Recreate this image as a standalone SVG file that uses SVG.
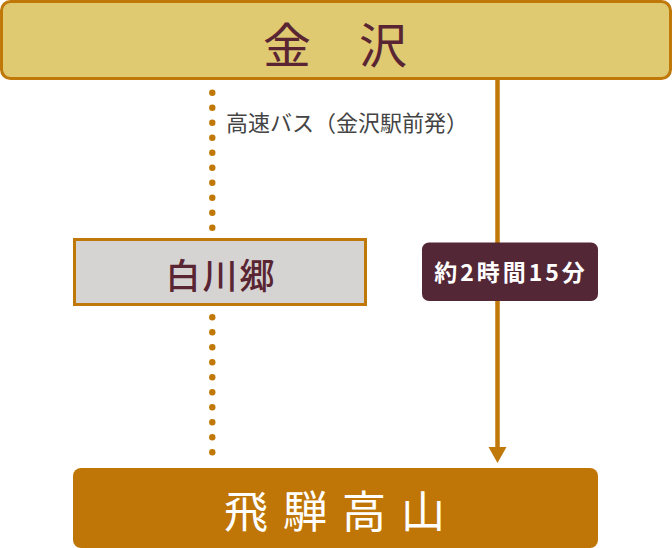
<svg xmlns="http://www.w3.org/2000/svg" width="672" height="548" viewBox="0 0 672 548">
<defs>
<style>
.jp{font-family:"Noto Sans CJK JP","Noto Sans",sans-serif;}
.dot{fill:#C07808;}
</style>
</defs>
<rect width="672" height="548" fill="#FFFFFF"/>
<g id="connectors">
<line x1="497.5" y1="79" x2="497.5" y2="449" stroke="#C07808" stroke-width="4.5"/>
<path d="M488.5,447 L506.5,447 L497.5,463 Z" fill="#C07808"/>
<g id="dots-upper">
<circle class="dot" cx="212.3" cy="92.7" r="3.2"/>
<circle class="dot" cx="212.3" cy="107.7" r="3.2"/>
<circle class="dot" cx="212.3" cy="122.7" r="3.2"/>
<circle class="dot" cx="212.3" cy="137.7" r="3.2"/>
<circle class="dot" cx="212.3" cy="152.7" r="3.2"/>
<circle class="dot" cx="212.3" cy="167.7" r="3.2"/>
<circle class="dot" cx="212.3" cy="182.7" r="3.2"/>
<circle class="dot" cx="212.3" cy="197.7" r="3.2"/>
<circle class="dot" cx="212.3" cy="212.7" r="3.2"/>
<circle class="dot" cx="212.3" cy="227.7" r="3.2"/>
</g>
<g id="dots-lower">
<circle class="dot" cx="212.3" cy="317.3" r="3.2"/>
<circle class="dot" cx="212.3" cy="332.3" r="3.2"/>
<circle class="dot" cx="212.3" cy="347.3" r="3.2"/>
<circle class="dot" cx="212.3" cy="362.3" r="3.2"/>
<circle class="dot" cx="212.3" cy="377.3" r="3.2"/>
<circle class="dot" cx="212.3" cy="392.3" r="3.2"/>
<circle class="dot" cx="212.3" cy="407.3" r="3.2"/>
<circle class="dot" cx="212.3" cy="422.3" r="3.2"/>
<circle class="dot" cx="212.3" cy="437.3" r="3.2"/>
<circle class="dot" cx="212.3" cy="452.3" r="3.2"/>
</g>
<text class="jp" x="226" y="131" font-size="22" fill="#444444">高速バス（金沢駅前発）</text>
</g>
<g id="kanazawa">
<rect x="1.5" y="1.5" width="669" height="77" rx="9" fill="#DFC971" stroke="#C07808" stroke-width="3"/>
<text class="jp" x="335" y="63" font-size="48" fill="#5A2533" text-anchor="middle">金　沢</text>
</g>
<g id="shirakawago">
<rect x="74.5" y="239.5" width="291" height="65" fill="#D6D4D2" stroke="#C07808" stroke-width="3"/>
<text class="jp" x="221" y="289" font-size="35" font-weight="500" fill="#5A2533" text-anchor="middle" letter-spacing="2">白川郷</text>
</g>
<g id="duration">
<rect x="422" y="242.5" width="176" height="58.5" rx="7" fill="#532736"/>
<text class="jp" x="511" y="281" font-size="23" font-weight="bold" fill="#FFFFFF" text-anchor="middle" letter-spacing="3">約2時間15分</text>
</g>
<g id="hidatakayama">
<rect x="73" y="468" width="525" height="80" rx="8" fill="#BF7606"/>
<text class="jp" x="342" y="528" font-size="44" fill="#FFFFFF" text-anchor="middle" letter-spacing="15">飛騨高山</text>
</g>
</svg>
